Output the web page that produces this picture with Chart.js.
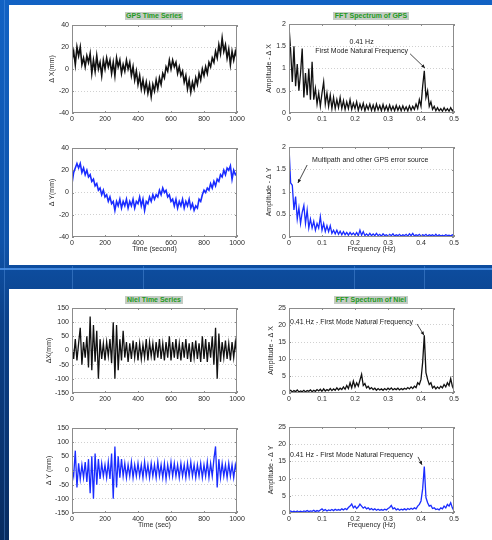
<!DOCTYPE html>
<html>
<head>
<meta charset="utf-8">
<script src="https://cdn.jsdelivr.net/npm/chart.js@4.4.1/dist/chart.umd.min.js"></script>
<style>
    html, body { margin: 0; padding: 0; }
    body {
        width: 492px; height: 540px; position: relative; overflow: hidden;
        background: linear-gradient(180deg, #1262c4 0%, #0e52a8 45%, #0b4088 60%, #082b60 100%);
        font-family: "Liberation Sans", Arial, sans-serif;
    }
    .panel { position: absolute; background: #fff; }
    .streak { position: absolute; background: rgba(110, 170, 240, 0.35); }
    .ttl {
        position: absolute; background: #c4ccc4; color: #1f9a22;
        font-size: 7px; font-weight: bold; line-height: 8px; text-align: center; white-space: nowrap;
    }
    canvas { position: absolute; }
</style>
</head>
<body>
<div class="streak" style="left:4px;top:0;width:1px;height:540px"></div>
<div class="streak" style="left:72px;top:266px;width:1px;height:23px"></div>
<div class="streak" style="left:143px;top:266px;width:1px;height:23px"></div>
<div class="streak" style="left:354px;top:266px;width:1px;height:23px"></div>
<div class="streak" style="left:424px;top:266px;width:1px;height:23px"></div>
<div class="streak" style="left:0;top:268px;width:492px;height:2px;background:rgba(80,150,235,0.8)"></div>
<div class="panel" style="left:9px;top:5px;width:483px;height:260px"></div>
<div class="panel" style="left:9px;top:289px;width:483px;height:251px"></div>

<div class="ttl" style="left:125px;top:12px;width:58px">GPS Time Series</div>
<div class="ttl" style="left:333px;top:12px;width:76px">FFT Spectrum of GPS</div>
<div class="ttl" style="left:125px;top:296px;width:58px">Niel Time Series</div>
<div class="ttl" style="left:334px;top:296px;width:74px">FFT Spectrum of Niel</div>

<script>
// Time series, one sample every 10 s (0..1000 s), values in mm
const gpsDxMm = [8,16,4,20,12,20,4,10,2,12,
    6,14,-4,8,-2,12,0,6,-6,8,
    0,10,2,8,-4,6,-6,10,2,8,
    -4,4,-2,8,0,6,-6,2,-10,-2,
    -14,-6,-18,-10,-20,-12,-22,-14,-25,-14,
    -20,-10,-18,-8,-14,-4,-8,2,-2,8,
    0,8,2,6,-4,2,-6,-2,-12,-6,
    -18,-10,-21,-12,-18,-8,-14,-4,-10,0,
    -6,2,-4,6,2,10,6,16,10,22,
    14,28,16,22,10,18,4,16,8,16,
    10];
const gpsDyMm = [8,18,22,26,22,26,18,22,16,20,
    14,16,10,12,6,8,2,4,-2,2,
    -4,-2,-8,-4,-10,-8,-16,-8,-12,-6,
    -14,-8,-12,-6,-14,-8,-12,-6,-14,-8,
    -10,-4,-12,-6,-16,-8,-10,-4,-8,-2,
    -6,-2,-4,2,-2,4,0,2,-4,-2,
    -8,-6,-12,-6,-14,-8,-12,-6,-14,-8,
    -12,-6,-14,-10,-16,-12,-14,-6,-8,-2,
    2,0,4,2,8,4,10,6,12,10,
    16,14,20,16,22,20,24,12,20,16,
    18];
const nielDxMm = [20,-30,40,-35,25,80,-50,30,-25,50,
    -60,120,-70,90,-40,70,-100,40,-30,25,
    -35,30,-20,40,-45,100,-100,90,-70,40,
    -35,70,-25,30,-40,25,-30,35,-25,30,
    -35,25,-30,20,-25,40,-35,30,-20,25,
    -35,30,-25,40,-30,25,-35,30,-25,50,
    -35,30,-25,40,-30,25,-35,30,-25,40,
    -30,25,-40,30,-25,35,-30,25,-40,50,
    -30,40,-40,30,-25,50,-50,80,-100,60,
    -40,30,-25,35,-30,25,-35,30,-25,30,
    -20];
const nielDyMm = [10,-20,70,-60,25,-30,20,-25,30,-40,
    40,-80,50,-100,60,-50,40,-30,25,-20,
    20,-25,30,-30,60,-100,85,-60,50,-25,
    40,-20,25,-25,20,-20,30,-25,20,-20,
    25,-20,20,-25,30,-20,20,-25,25,-20,
    20,-25,30,-20,20,-25,25,-30,20,-20,
    30,-20,25,-20,20,-25,25,-20,20,-25,
    25,-20,30,-20,20,-25,20,-20,25,-25,
    20,-20,30,-25,25,-20,40,85,-60,40,
    -25,25,-20,20,-25,25,-20,20,-25,20,
    -10];

// FFT amplitudes, one bin every 0.005 Hz (0..0.5 Hz)
const gpsAmpX = [1.95,1.4,0.7,1.5,0.6,1.1,0.5,0.9,1.45,0.35,
    0.9,0.4,1.0,0.3,1.15,0.3,0.55,0.2,0.45,0.15,
    0.45,0.7,0.2,0.45,0.15,0.4,0.1,0.35,0.1,0.3,
    0.12,0.35,0.1,0.28,0.08,0.25,0.1,0.3,0.08,0.22,
    0.1,0.25,0.06,0.2,0.08,0.22,0.05,0.18,0.08,0.2,
    0.06,0.18,0.05,0.2,0.07,0.17,0.05,0.19,0.06,0.16,
    0.05,0.18,0.06,0.15,0.05,0.17,0.06,0.15,0.05,0.16,
    0.06,0.14,0.05,0.16,0.06,0.15,0.08,0.2,0.1,0.3,
    0.15,0.6,0.95,0.35,0.5,0.15,0.25,0.08,0.15,0.05,
    0.12,0.05,0.1,0.04,0.12,0.05,0.1,0.04,0.12,0.05,
    0.1];
const gpsAmpY = [2.0,1.2,1.15,0.6,0.9,0.4,0.65,0.3,0.55,0.7,
    0.3,0.6,0.2,0.4,0.2,0.35,0.15,0.3,0.2,0.45,
    0.15,0.3,0.12,0.25,0.12,0.25,0.08,0.15,0.07,0.15,
    0.06,0.13,0.05,0.12,0.05,0.1,0.04,0.1,0.05,0.09,
    0.04,0.1,0.03,0.15,0.04,0.12,0.03,0.07,0.03,0.08,
    0.03,0.07,0.03,0.08,0.03,0.06,0.02,0.07,0.03,0.05,
    0.02,0.06,0.03,0.07,0.02,0.05,0.03,0.06,0.02,0.05,
    0.03,0.06,0.02,0.07,0.03,0.08,0.02,0.05,0.03,0.06,
    0.02,0.05,0.03,0.06,0.02,0.05,0.03,0.05,0.02,0.06,
    0.02,0.05,0.02,0.04,0.02,0.05,0.03,0.04,0.02,0.05,
    0.03];
const nielAmpX = [0.5,0.8,0.3,0.7,0.4,0.9,0.3,0.6,0.4,0.8,
    0.3,0.7,0.5,0.9,0.4,0.8,0.5,1.0,0.6,1.1,
    0.5,1.2,0.6,1.0,0.7,1.3,0.7,1.2,0.8,1.5,
    0.9,1.4,1.0,1.8,1.1,2.2,1.3,3.0,1.5,3.5,
    1.8,3.0,2.0,3.8,5.5,2.2,2.8,1.5,2.0,1.2,
    1.6,1.0,1.4,0.8,1.3,0.9,1.2,0.8,1.3,0.9,
    1.4,1.0,1.5,0.9,1.3,1.0,1.4,0.9,1.3,1.0,
    1.4,1.1,1.6,1.2,1.8,1.3,2.0,1.6,3.0,2.5,
    4.0,9.0,17.0,6.0,4.0,2.5,3.0,1.5,2.0,1.2,
    1.8,1.3,2.0,1.5,2.5,1.8,3.0,2.2,4.2,2.0,
    1.0];
const nielAmpY = [0.4,0.6,0.3,0.5,0.3,0.6,0.3,0.5,0.3,0.6,
    0.4,0.7,0.4,0.6,0.5,0.8,0.4,0.7,0.5,0.9,
    1.2,0.7,1.0,0.6,0.9,0.7,1.0,0.7,1.1,0.8,
    1.0,0.8,1.2,0.9,1.3,1.0,1.6,2.0,2.6,1.5,
    2.0,1.3,1.8,2.6,2.0,1.4,1.8,1.2,1.5,1.0,
    1.3,0.9,1.2,0.8,1.1,0.8,1.0,0.8,1.1,0.9,
    1.3,1.6,2.2,1.2,1.5,0.9,1.2,0.8,1.1,0.9,
    1.2,0.9,1.3,1.0,1.4,1.1,1.5,1.2,2.0,2.5,
    3.5,7.0,13.5,4.5,3.0,2.0,2.2,1.3,1.5,1.0,
    1.2,0.9,1.5,1.2,2.0,1.5,2.5,2.0,3.0,1.5,
    0.6];

// sample grids
const timeGrid = gpsDxMm.map((_, i) => i * 10);
const freqGrid = gpsAmpX.map((_, i) => i * 0.005);

const FONT = '"Liberation Sans", Arial, sans-serif';

// box around the plot plus small inward ticks (MATLAB look)
const framePlugin = {
    id: 'frame',
    afterDraw(chart) {
        const { ctx, chartArea: a, scales: { x, y } } = chart;
        ctx.save();
        ctx.strokeStyle = '#8c8c8c';
        ctx.lineWidth = 1;
        ctx.strokeRect(Math.round(a.left) + 0.5, Math.round(a.top) + 0.5, Math.round(a.width) - 1, Math.round(a.height) - 1);
        ctx.beginPath();
        x.ticks.forEach(t => {
            const px = Math.round(x.getPixelForValue(t.value)) + 0.5;
            ctx.moveTo(px, a.top); ctx.lineTo(px, a.top + 2);
            ctx.moveTo(px, a.bottom); ctx.lineTo(px, a.bottom - 2);
        });
        y.ticks.forEach(t => {
            const py = Math.round(y.getPixelForValue(t.value)) + 0.5;
            ctx.moveTo(a.left, py); ctx.lineTo(a.left + 2, py);
            ctx.moveTo(a.right, py); ctx.lineTo(a.right - 2, py);
        });
        ctx.stroke();
        ctx.restore();
    }
};

// text notes and arrow, placed in data coordinates
const notePlugin = {
    id: 'notes',
    afterDatasetsDraw(chart, args, opts) {
        if (!opts || !opts.texts) return;
        const { ctx, scales: { x, y } } = chart;
        ctx.save();
        ctx.fillStyle = '#1a1a1a';
        ctx.font = '7px ' + FONT;
        ctx.textBaseline = 'middle';
        opts.texts.forEach(t => {
            ctx.textAlign = t.align || 'left';
            ctx.fillText(t.text, x.getPixelForValue(t.at[0]), y.getPixelForValue(t.at[1]));
        });
        if (opts.arrow) {
            const x0 = x.getPixelForValue(opts.arrow.from[0]), y0 = y.getPixelForValue(opts.arrow.from[1]);
            const x1 = x.getPixelForValue(opts.arrow.to[0]), y1 = y.getPixelForValue(opts.arrow.to[1]);
            const ang = Math.atan2(y1 - y0, x1 - x0);
            ctx.strokeStyle = '#1a1a1a';
            ctx.lineWidth = 0.8;
            ctx.beginPath(); ctx.moveTo(x0, y0); ctx.lineTo(x1, y1); ctx.stroke();
            ctx.beginPath();
            ctx.moveTo(x1, y1);
            ctx.lineTo(x1 - 4 * Math.cos(ang - 0.45), y1 - 4 * Math.sin(ang - 0.45));
            ctx.lineTo(x1 - 4 * Math.cos(ang + 0.45), y1 - 4 * Math.sin(ang + 0.45));
            ctx.closePath(); ctx.fill();
        }
        ctx.restore();
    }
};

Chart.register(framePlugin, notePlugin);

function drawPanel(p) {
    const padL = 8, padT = 6, padR = 10, padB = 2, xH = 16;
    const cv = document.createElement('canvas');
    cv.width = padL + p.yW + p.w + padR;
    cv.height = padT + p.h + xH + padB;
    cv.style.left = (p.left - p.yW - padL) + 'px';
    cv.style.top = (p.top - padT) + 'px';
    document.body.appendChild(cv);

    new Chart(cv, {
        type: 'line',
        data: {
            datasets: [{
                data: p.xs.map((v, i) => ({ x: v, y: p.ys[i] })),
                borderColor: p.color,
                borderWidth: p.lw || 1,
                borderJoinStyle: 'miter',
                pointRadius: 0,
                tension: 0
            }]
        },
        options: {
            responsive: false,
            animation: false,
            events: [],
            layout: { padding: { left: padL, top: padT, right: padR, bottom: padB } },
            plugins: {
                legend: { display: false },
                tooltip: { enabled: false },
                notes: p.notes || {}
            },
            scales: {
                x: {
                    type: 'linear',
                    min: p.xMin, max: p.xMax,
                    ticks: {
                        stepSize: p.xStep, padding: 2, color: '#2a2a2a',
                        font: { family: FONT, size: 7 },
                        maxRotation: 0, autoSkip: false,
                        callback: v => +v.toFixed(2)
                    },
                    grid: { display: false, drawTicks: false },
                    border: { display: false },
                    title: {
                        display: !!p.xTitle, text: p.xTitle, color: '#2a2a2a',
                        font: { family: FONT, size: 7 }, padding: 0
                    },
                    afterFit(s) { s.height = xH; s.paddingLeft = 0; s.paddingRight = 0; }
                },
                y: {
                    min: p.yMin, max: p.yMax,
                    ticks: {
                        stepSize: p.yStep, padding: 3, color: '#2a2a2a',
                        font: { family: FONT, size: 7 },
                        callback: v => +v.toFixed(2)
                    },
                    grid: {
                        drawTicks: false,
                        color: ctx => (ctx.tick && (ctx.tick.value === p.yMin || ctx.tick.value === p.yMax)) ? 'rgba(0,0,0,0)' : '#c4c4c4',
                        lineWidth: 0.8
                    },
                    border: { display: false, dash: [1, 2] },
                    title: {
                        display: true, text: p.yTitle, color: '#2a2a2a',
                        font: { family: FONT, size: 7 }, padding: 0
                    },
                    afterFit(s) { s.width = p.yW; s.paddingTop = 0; s.paddingBottom = 0; }
                }
            }
        }
    });
}

// GPS, top half of the slide
drawPanel({
    left: 72, top: 25, w: 165, h: 88, yW: 24,
    xs: timeGrid, ys: gpsDxMm, color: '#111', lw: 1.6,
    xMin: 0, xMax: 1000, xStep: 200, yMin: -40, yMax: 40, yStep: 20,
    yTitle: '\u0394 X(mm)'
});
drawPanel({
    left: 289, top: 24, w: 165, h: 89, yW: 24,
    xs: freqGrid, ys: gpsAmpX, color: '#111', lw: 1.3,
    xMin: 0, xMax: 0.5, xStep: 0.1, yMin: 0, yMax: 2, yStep: 0.5,
    yTitle: 'Amplitude - \u0394 X',
    notes: {
        texts: [
            { text: '0.41 Hz', at: [0.22, 1.6], align: 'center' },
            { text: 'First Mode Natural Frequency', at: [0.22, 1.39], align: 'center' }
        ],
        arrow: { from: [0.367, 1.33], to: [0.412, 1.01] }
    }
});
drawPanel({
    left: 72, top: 148, w: 165, h: 89, yW: 24,
    xs: timeGrid, ys: gpsDyMm, color: '#1a2cff', lw: 1.6,
    xMin: 0, xMax: 1000, xStep: 200, yMin: -40, yMax: 40, yStep: 20,
    yTitle: '\u0394 Y(mm)', xTitle: 'Time (second)'
});
drawPanel({
    left: 289, top: 147, w: 165, h: 90, yW: 24,
    xs: freqGrid, ys: gpsAmpY, color: '#1a2cff', lw: 1.3,
    xMin: 0, xMax: 0.5, xStep: 0.1, yMin: 0, yMax: 2, yStep: 0.5,
    yTitle: 'Amplitude - \u0394 Y', xTitle: 'Frequency (Hz)',
    notes: {
        texts: [{ text: 'Multipath and other GPS error source', at: [0.07, 1.71] }],
        arrow: { from: [0.055, 1.6], to: [0.027, 1.2] }
    }
});

// Niel, bottom half of the slide
drawPanel({
    left: 72, top: 308, w: 165, h: 85, yW: 27,
    xs: timeGrid, ys: nielDxMm, color: '#111', lw: 1.3,
    xMin: 0, xMax: 1000, xStep: 200, yMin: -150, yMax: 150, yStep: 50,
    yTitle: '\u0394X(mm)'
});
drawPanel({
    left: 289, top: 308, w: 165, h: 85, yW: 22,
    xs: freqGrid, ys: nielAmpX, color: '#111', lw: 1.3,
    xMin: 0, xMax: 0.5, xStep: 0.1, yMin: 0, yMax: 25, yStep: 5,
    yTitle: 'Amplitude - \u0394 X',
    notes: {
        texts: [{ text: '0.41 Hz - First Mode Natural Frequency', at: [0.003, 20.9] }],
        arrow: { from: [0.388, 20.3], to: [0.409, 17] }
    }
});
drawPanel({
    left: 72, top: 428, w: 165, h: 85, yW: 27,
    xs: timeGrid, ys: nielDyMm, color: '#1a2cff', lw: 1.3,
    xMin: 0, xMax: 1000, xStep: 200, yMin: -150, yMax: 150, yStep: 50,
    yTitle: '\u0394 Y (mm)', xTitle: 'Time (sec)'
});
drawPanel({
    left: 289, top: 427, w: 165, h: 86, yW: 22,
    xs: freqGrid, ys: nielAmpY, color: '#1a2cff', lw: 1.3,
    xMin: 0, xMax: 0.5, xStep: 0.1, yMin: 0, yMax: 25, yStep: 5,
    yTitle: 'Amplitude - \u0394 Y', xTitle: 'Frequency (Hz)',
    notes: {
        texts: [{ text: '0.41 Hz - First Mode Natural Frequency', at: [0.003, 16.9] }],
        arrow: { from: [0.391, 16.3], to: [0.403, 14] }
    }
});
</script>
</body>
</html>
